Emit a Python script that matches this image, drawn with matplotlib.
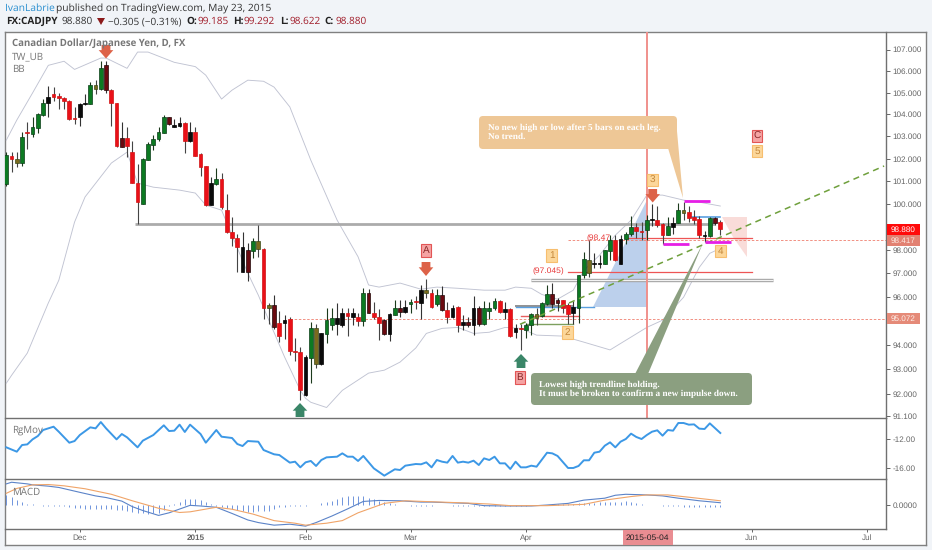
import numpy as np
import matplotlib
matplotlib.use("Agg")
import matplotlib.pyplot as plt
from matplotlib.patches import Polygon, FancyBboxPatch, Rectangle
from matplotlib.ticker import FixedLocator, FixedFormatter, NullLocator

plt.rcParams["text.hinting"] = "no_hinting"

opens = [
100.85,102.11,102.00,101.79,103.18,103.10,103.39,103.97,104.50,104.92,
104.83,104.75,104.62,103.84,103.86,104.47,104.47,105.35,105.16,106.26,
105.11,104.50,102.91,102.92,102.29,100.91,100.01,101.95,102.62,102.88,
103.16,103.86,103.44,103.47,103.62,102.80,103.20,102.20,101.65,99.95,
100.87,101.09,99.71,98.77,98.53,97.06,98.01,97.95,98.37,98.03,
95.65,95.65,94.92,94.91,95.05,93.76,93.71,91.94,93.44,94.68,
93.20,94.44,94.81,94.88,94.80,95.30,95.15,95.15,94.99,96.16,
95.34,95.14,95.02,94.43,95.24,95.55,95.35,95.69,95.82,95.76,
96.28,96.18,95.68,96.08,95.44,95.16,95.58,94.81,94.95,94.81,
95.55,94.88,95.41,95.53,95.82,95.37,95.49,94.54,94.70,94.63,
94.81,95.27,95.20,95.69,96.11,95.86,95.86,95.65,95.30,95.55,
96.92,97.58,97.39,97.39,97.38,97.95,98.41,97.41,98.46,98.70,
98.97,98.82,98.85,99.29,99.28,99.10,98.64,98.97,99.17,99.71,
99.62,99.40,99.33,98.61,98.60,99.36,99.185]
closes = [
102.16,101.99,101.79,102.96,103.14,103.41,104.00,104.53,104.81,104.81,
104.73,104.61,103.79,103.80,104.49,104.51,105.35,105.17,106.15,105.11,
104.50,102.56,102.53,102.56,100.90,100.06,101.98,102.64,102.89,103.18,
103.86,103.57,103.51,103.60,102.80,103.18,102.13,101.64,99.94,100.91,
101.09,99.84,98.77,98.53,98.12,98.12,97.06,98.37,98.02,95.51,
95.51,94.72,94.36,95.02,93.73,93.72,92.17,93.49,94.68,93.23,
94.47,95.02,95.13,95.11,95.30,95.18,95.30,94.99,96.18,95.32,
95.14,94.91,94.44,95.26,95.55,95.35,95.58,95.80,95.78,96.28,
96.16,95.58,96.07,95.44,95.16,95.55,94.81,94.95,94.81,95.55,
94.88,95.55,95.55,95.82,95.37,95.47,94.36,94.68,94.66,94.84,
95.27,95.13,95.72,96.11,95.69,95.72,95.55,95.27,95.58,96.92,
97.60,97.01,97.43,97.43,97.98,98.41,97.55,98.46,98.70,98.97,
98.80,98.78,99.31,99.33,99.07,98.66,99.05,99.17,99.71,99.60,
99.36,99.31,98.63,98.65,99.37,99.17,98.880]
highs = [
102.30,102.30,102.30,103.21,103.66,103.89,104.07,104.70,105.30,105.26,
104.96,104.79,104.66,104.32,104.53,104.93,105.49,105.57,106.45,106.47,
105.14,104.53,103.66,103.44,102.79,101.74,102.01,102.76,103.06,103.44,
103.97,103.89,103.77,103.86,103.66,103.66,103.44,102.26,101.68,101.19,
101.56,101.34,100.41,99.43,98.67,98.75,98.30,98.53,99.07,98.08,
95.74,96.07,95.39,95.23,95.15,94.29,93.89,93.58,94.95,94.88,
94.49,95.51,95.51,95.76,95.51,95.55,95.55,95.30,96.39,96.31,
95.79,95.47,95.09,95.30,95.86,95.86,95.86,95.89,96.03,96.49,
96.77,96.35,96.31,96.45,95.79,95.65,95.60,95.23,95.15,96.03,
95.60,95.82,95.79,95.93,95.86,95.79,95.55,94.88,94.88,94.91,
95.32,95.55,95.79,96.49,96.59,95.97,95.86,95.72,95.83,96.92,
97.91,98.41,97.86,97.77,98.01,98.63,98.63,98.63,98.77,99.46,
99.17,99.21,99.50,99.98,99.90,99.14,99.40,99.40,100.04,100.08,
99.90,99.72,99.46,98.82,99.43,99.43,99.292]
lows = [
100.80,101.41,101.64,101.68,102.41,102.98,103.16,103.92,103.86,104.63,
104.24,104.23,103.74,103.56,103.48,104.41,104.46,104.92,105.11,104.96,
103.47,102.53,102.53,102.05,100.90,99.11,99.98,101.93,102.38,102.77,
103.14,103.51,103.44,103.41,102.26,102.76,102.11,101.22,99.90,99.95,
100.82,99.79,98.74,98.15,97.06,97.06,96.66,97.65,97.69,95.05,
94.85,94.67,94.12,94.23,93.58,93.33,91.74,91.91,92.44,93.03,
93.19,94.06,94.60,94.40,94.74,94.37,94.81,94.77,94.78,95.30,
95.05,94.19,94.40,94.16,95.23,95.15,95.32,95.30,95.47,95.07,
95.93,95.53,95.60,95.41,94.91,95.13,94.54,94.63,94.72,94.40,
94.77,94.81,95.05,95.44,95.30,95.05,94.33,94.30,93.78,94.30,
94.40,94.81,95.15,95.65,95.51,95.41,95.30,94.88,94.85,94.91,
96.78,96.84,97.20,97.20,97.38,97.55,97.52,97.41,98.27,98.59,
98.49,98.41,98.41,99.02,98.97,98.24,98.62,98.70,99.14,99.28,
99.21,99.11,98.49,98.34,98.56,99.07,98.622]
candle_colours = (
"grogrgggkr"
"rrrrkkgogd"
"rrdrrrgggg"
"gdkkrkrrrk"
"grrrrkdgor"
"odrkrrrkgo"
"kggkkrkrgd"
"rrdkgdkgrk"
"orgdrkrkdk"
"dgggrkrkrg"
"goggddrrkg"
"gokkggrkgg"
"rrgkrrgkgo"
"rrrkgdr")

upper_idx = [0,2,5,8,11,13,18,19,23,25,27,32,36,38,41,43,46,49,51,54,58,63,67,69,71,75,79,82,86,91,95,97,100,102,105,108,110,113,116,119,122,125,129,132,136]
upper_val = [102.83,103.74,104.98,106.26,106.45,106.07,106.6,106.6,106.12,106.88,106.88,106.4,106.2,105.8,104.7,105.11,105.57,105.52,105.25,104.34,101.93,99.29,97.7,96.5,96.41,96.58,96.32,96.41,96.36,96.28,96.28,96.41,96.36,96.1,95.9,96.28,97.12,97.77,98.63,99.28,100.38,100.38,100.16,100.07,99.9]
lower_idx = [0,1,4,8,10,13,15,20,23,25,28,33,36,38,41,46,48,50,53,56,57,58,61,64,69,72,75,78,80,83,86,89,92,95,98,101,106,110,115,122,125,129,132,134,136]
lower_val = [92.43,92.75,93.66,95.74,96.7,99.2,100.3,101.8,102.29,100.91,100.73,100.6,100.47,99.94,99.72,97.0,96.07,95.02,93.5,92.14,91.82,91.66,91.45,92.14,92.84,92.96,93.29,93.87,94.47,94.68,94.72,94.47,94.52,94.72,94.68,94.4,94.36,94.11,93.79,94.72,95.02,95.98,97.25,97.85,98.06]

rg_idx = [0,2,3,4,5,6,7,9,10,12,13,14,16,17,18,19,21,22,23,25,26,28,30,31,32,33,34,35,37,38,40,41,43,44,45,46,48,49,51,52,54,55,56,57,58,59,60,61,63,64,65,66,67,68,70,72,74,75,76,78,79,80,81,82,83,84,85,86,87,88,89,90,91,92,93,94,95,96,97,98,99,100,101,103,104,105,107,108,109,110,111,112,113,114,115,116,117,118,119,120,121,122,123,124,125,126,127,128,129,130,131,132,133,134,136]
rg_val = [-13.15,-13.75,-12.83,-12.74,-12.05,-11.59,-10.76,-10.30,-11.0,-12.51,-12.28,-11.45,-10.39,-10.53,-9.66,-10.53,-12.05,-11.31,-11.77,-13.15,-12.23,-11.45,-10.11,-10.90,-10.85,-10.02,-11.03,-10.02,-11.31,-12.51,-10.76,-11.68,-11.86,-12.69,-12.97,-12.28,-12.37,-13.52,-14.11,-14.21,-15.26,-15.13,-15.91,-15.22,-15.03,-15.72,-14.90,-14.53,-14.44,-13.98,-14.44,-14.44,-15.03,-14.34,-16.05,-17.06,-16.18,-16.28,-15.68,-15.45,-15.49,-15.22,-15.91,-14.90,-15.13,-15.26,-14.34,-15.26,-15.13,-15.26,-14.99,-15.59,-14.67,-14.90,-14.44,-15.36,-15.36,-16.14,-15.13,-15.91,-15.91,-15.68,-15.82,-13.89,-13.98,-14.34,-16.00,-16.00,-15.72,-14.94,-14.94,-13.89,-13.75,-12.92,-12.46,-13.15,-12.37,-12.00,-11.26,-11.72,-12.00,-11.45,-10.99,-10.80,-11.54,-10.76,-10.85,-9.79,-9.79,-10.02,-9.98,-10.57,-10.62,-9.84,-11.17]

macd_idx = [0,1,4,5,8,10,14,17,19,22,24,26,29,31,35,37,40,43,46,48,51,54,57,59,62,65,68,71,75,79,81,88,91,95,100,103,107,110,114,116,118,122,125,128,132,136]
macd_val = [0.65,0.70,0.65,0.62,0.58,0.54,0.39,0.28,0.23,0.12,-0.05,-0.17,-0.32,-0.24,-0.01,-0.03,-0.07,-0.26,-0.46,-0.54,-0.62,-0.59,-0.65,-0.54,-0.34,-0.12,0.11,0.14,0.13,0.09,0.09,0.05,-0.02,-0.03,-0.03,0.00,0.05,0.15,0.21,0.30,0.33,0.31,0.28,0.21,0.13,0.07]
signal_idx = [0,2,5,8,11,15,20,24,29,33,35,40,43,47,51,55,57,61,64,67,72,76,81,88,92,96,103,110,114,119,122,126,130,136]
signal_val = [0.36,0.51,0.62,0.63,0.59,0.50,0.33,0.13,-0.10,-0.23,-0.21,-0.07,-0.13,-0.28,-0.48,-0.56,-0.62,-0.56,-0.48,-0.24,0.05,0.13,0.10,0.06,0.03,-0.02,-0.02,0.02,0.15,0.26,0.31,0.31,0.24,0.13]
hist_centi = [30,25,15,8,3,2,0,-2,-3,-3,-4,-4,-5,-8,-10,-12,-12,-12,-13,-13,
-13,-14,-15,-18,-20,-24,-26,-28,-26,-24,-15,-3,2,8,17,18,17,15,8,2,
-3,-6,-8,-12,-15,-18,-20,-20,-18,-18,-18,-13,-7,-5,-3,-3,-2,-2,0,1,
5,8,12,18,24,28,28,28,27,22,18,12,8,5,3,1,-1,-3,-3,-3,
-3,-3,-1,0,0,-2,-3,-3,-3,-4,-3,-3,-3,-3,-3,-3,-3,-2,-2,-2,
-1,0,0,1,2,3,3,3,4,5,5,7,7,8,8,9,10,10,12,10,
6,3,1,0,-1,-2,-2,-3,-4,-5,-5,-6,-6,-7,-7,-7,-7]

price_ticks = [107,106,105,104,103,102,101,100,99,98,97,96,95,94,93,92,91.1]
price_labels = ["107.000","106.000","105.000","104.000","103.000","102.000","101.000","100.000","","98.000","97.000","96.000","","94.000","93.000","92.000","91.100"]
time_idx = [14,36,57,77,99,142,164]
time_labels = ["Dec","2015","Feb","Mar","Apr","Jun","Jul"]

W, H = 932, 550
BG = "#f1f4f8"
GREY = "#777777"
fam = ["Liberation Sans", "DejaVu Sans"]
sansUI = ["Open Sans"]
fig = plt.figure(figsize=(W/100, H/100), dpi=100, facecolor=BG)

def axpx(x0, y0, x1, y1, **k):
    return fig.add_axes([x0/W, 1-y1/H, (x1-x0)/W, (y1-y0)/H], **k)

# whole frame
frame = axpx(5, 32, 926, 545, zorder=0)
frame.set_xticks([]); frame.set_yticks([])
frame.set_facecolor("white")
for s in frame.spines.values():
    s.set_color("#808080"); s.set_linewidth(1.0)

XL = (-0.25, 167.56)
ax = axpx(5, 32, 886, 418, zorder=2)
rg = axpx(5, 418, 886, 479, zorder=2)
mc = axpx(5, 479, 886, 529, zorder=2)
for a in (ax, rg, mc):
    a.set_facecolor("none")
    a.set_xlim(*XL)
    a.yaxis.tick_right()
    a.tick_params(axis="y", length=3, width=0.7, color="#666666", labelcolor="#666666", labelsize=5.9, pad=1.5)
    a.tick_params(axis="x", length=2, width=0.7, color="#666666", labelcolor="#666666", labelsize=5.9, pad=2)
    for s in a.spines.values():
        s.set_color("#707070"); s.set_linewidth(1.0)
    a.spines["left"].set_visible(False); a.spines["top"].set_visible(False)
    a.set_xticks([])

# pixel overlay
ov = fig.add_axes([0, 0, 1, 1], zorder=5)
ov.set_xlim(0, W); ov.set_ylim(H, 0); ov.axis("off"); ov.patch.set_alpha(0)

# main pane
ax.set_yscale("log")
ax.set_ylim(91.03, 107.825)
ax.yaxis.set_major_locator(FixedLocator(price_ticks))
ax.yaxis.set_major_formatter(FixedFormatter(price_labels))
ax.yaxis.set_minor_locator(NullLocator())
for lab in ax.get_yticklabels():
    lab.set_family(fam)

X = np.arange(len(opens))
# shaded zones under the candles
ax.add_patch(Polygon([(647, 200), (593, 307), (647, 307)], closed=True, transform=ov.transData,
                     fc="#bcd0ec", ec="none", zorder=1))
ax.add_patch(Polygon([(722, 217), (747, 217), (747, 257), (733, 237)], closed=True, transform=ov.transData,
                     fc="#f9dcd9", ec="none", zorder=1))

# bands
ax.plot(upper_idx, upper_val, color="#c0c3d2", lw=0.65, zorder=2)
ax.plot(lower_idx, lower_val, color="#c0c3d2", lw=0.65, zorder=2)

# level lines
ax.plot([24.5, 135], [99.11, 99.11], color="#ababab", lw=2.0, zorder=2, solid_capstyle="butt")
ax.plot([100, 146], [96.7, 96.7], color="#9a9a9a", lw=2.4, zorder=2, solid_capstyle="butt")
ax.plot([100, 146], [96.7, 96.7], color="#f2f2f2", lw=1.0, zorder=2, solid_capstyle="butt")
ax.plot([106.9, 142], [97.05, 97.05], color="#ee5555", lw=0.9, zorder=2)
ax.plot([118, 142], [98.51, 98.51], color="#ee5555", lw=0.9, zorder=2)
ax.plot([106.9, 167.56], [98.417, 98.417], color="#ef7f6f", lw=0.6, ls=(0, (3, 2)), zorder=2)
ax.plot([54, 167.56], [95.072, 95.072], color="#ef7f6f", lw=0.6, ls=(0, (3, 2)), zorder=2)
ax.plot([97, 108], [95.6, 95.6], color="#909090", lw=1.4, zorder=2)
ax.plot([97, 112], [95.58, 95.58], color="#5a9fe0", lw=1.0, zorder=2)
ax.plot([98, 109], [95.19, 95.19], color="#e86060", lw=1.0, zorder=2)
ax.plot([99, 108], [94.85, 94.85], color="#7da05f", lw=1.0, zorder=2)
ax.plot([130.5, 136], [99.41, 99.41], color="#5a9fe0", lw=1.2, zorder=2)

# vertical marker
ax.axvline(122, color="#f0908c", lw=1.4, zorder=2.5)

# candles
palette = {"g": ("#0c7a22", "#0c3d18"), "r": ("#ea1018", "#d01414"), "k": ("#0a0a0a", "#000000"),
           "d": ("#6a0a10", "#200808"), "o": ("#7a6a1e", "#3a4a18")}
wick = {"g": "#1c3a1c", "r": "#444444", "k": "#333333", "d": "#333333", "o": "#444444"}
for i, (o, h, l, c, col) in enumerate(zip(opens, highs, lows, closes, candle_colours)):
    ax.vlines(i, l, h, color=wick[col], lw=0.8, zorder=3)
    lo, hi = min(o, c), max(o, c)
    ax.bar(i, hi-lo, bottom=lo, width=0.70, color=palette[col][0], edgecolor=palette[col][1], lw=0.5, zorder=4)

# trend line
ax.plot([97.85, 167.2], [94.85, 101.67], color="#6fa03c", lw=1.1, ls=(0, (4, 3)), zorder=6)

# short magenta levels
for a0, a1, lv in [(129, 134, 100.1), (125, 130, 98.27), (133, 138, 98.34)]:
    ax.plot([a0, a1], [lv, lv], color="#e61ee6", lw=2.0, zorder=6, solid_capstyle="butt")

# callouts
def box(x0, y0, x1, y1, fc, r=4):
    ov.add_patch(FancyBboxPatch((x0+r, y0+r), x1-x0-2*r, y1-y0-2*r, boxstyle=f"round,pad={r},rounding_size={r}",
                                fc=fc, ec="none", zorder=3))

OR = "#eec796"; GN = "#8b9f80"
ov.add_patch(Polygon([(668, 148), (676, 120), (683, 198)], closed=True, fc=OR, ec="none", zorder=3))
box(479, 116, 677, 149, OR)
ov.add_patch(Polygon([(635, 374), (648, 374), (703, 243)], closed=True, fc=GN, ec="none", zorder=3))
box(531, 373, 752, 405, GN)
serif = dict(family=["Liberation Serif"], weight="bold", color="white", fontsize=6.65, va="center", zorder=4)
ov.text(488, 128, "No new high or low after 5 bars on each leg.", **serif)
ov.text(488, 137, "No trend.", **serif)
ov.text(539, 384.5, "Lowest high trendline holding.", **serif)
ov.text(539, 393.5, "It must be broken to confirm a new impulse down.", **serif)

# arrows
def arrow(xc, y0, y1, up, fc):
    w = 7.3; s = 4.4
    if up:
        m = y0+(y1-y0)*0.55
        pts = [(xc, y0), (xc+w, m), (xc+s, m), (xc+s, y1), (xc-s, y1), (xc-s, m), (xc-w, m)]
    else:
        m = y0+(y1-y0)*0.38
        pts = [(xc, y1), (xc+w, m), (xc+s, m), (xc+s, y0), (xc-s, y0), (xc-s, m), (xc-w, m)]
    ov.add_patch(Polygon(pts, closed=True, fc=fc, ec="none", zorder=3))

arrow(106, 45, 58.5, False, "#dd6248")
arrow(426, 262, 276, False, "#dd6248")
arrow(652.7, 189, 202.5, False, "#dd6248")
arrow(300, 403, 417, True, "#3a8668")
arrow(521, 354, 368, True, "#3a8668")

# badges
def badge(xc, yc, t, fc, ec, tc):
    ov.add_patch(Rectangle((xc-5.3, yc-6.3), 10.6, 12.6, fc=fc, ec=ec, lw=0.8, zorder=3))
    ov.text(xc, yc+0.2, t, ha="center", va="center", fontsize=7.2, color=tc, family=fam, zorder=4)

for xc, yc, t in [(426, 250.7, "A"), (520, 377.7, "B"), (757, 136, "C")]:
    badge(xc, yc, t, "#f5a3a3", "#e25555", "#8a2a2a")
for xc, yc, t in [(551.7, 255.7, "1"), (567.7, 332.7, "2"), (652.7, 180, "3"), (720.7, 251, "4"), (757, 151, "5")]:
    badge(xc, yc, t, "#fcd79a", "#f7be6e", "#c4873a")

red = dict(color="#e8393a", fontsize=6.1, va="center", family=fam, zorder=4)
ov.text(532, 271.5, "(97.045)", **red)
ov.text(586, 238, "(98.47", **red)

# pane captions
cap = dict(color=GREY, family=sansUI, va="center", zorder=4)
ov.text(12, 44, "Canadian Dollar/Japanese Yen, D, FX", fontsize=6.9, weight="bold", **cap)
ov.text(12, 56.5, "TW_UB", fontsize=7.0, **cap)
ov.text(12, 69, "BB", fontsize=7.0, **cap)
ov.text(12, 430.5, "RgMov", fontsize=7.0, **cap)
ov.text(12, 492, "MACD", fontsize=7.0, **cap)

# price flags
for y0, y1, fc, t, tc in [(224, 235, "#ff0a0a", "98.880", "white"), (235, 245.7, "#e28172", "98.417", "#fde8e0"), (313, 324, "#e58a78", "95.072", "#fdf0ea")]:
    ov.add_patch(Rectangle((886.5, y0), 33.5, y1-y0, fc=fc, ec="none", zorder=3))
    ov.text(903.5, (y0+y1)/2+0.2, t, ha="center", va="center", fontsize=5.9, color=tc, family=fam, zorder=4)

# RgMov
rg.set_ylim(-17.52, -9.1)
rg.plot(rg_idx, rg_val, color="#3c98e6", lw=1.4)
rg.set_yticks([-12, -16]); rg.set_yticklabels(["-12.00", "-16.00"], family=fam)

# MACD
mc.set_ylim(-0.738, 0.80)
mc.vlines(X, 0, np.array(hist_centi)/100, color="#6f94dc", lw=0.7)
mc.plot(macd_idx, macd_val, color="#5b83c8", lw=0.8)
mc.plot(signal_idx, signal_val, color="#f0a468", lw=0.8)
mc.set_yticks([0]); mc.set_yticklabels(["0.0000"], family=fam)
mc.set_xticks(time_idx + [122])
mc.set_xticklabels(time_labels + [""], family=fam)
for lab in mc.get_xticklabels():
    if lab.get_text() == "2015":
        lab.set_fontweight("bold")

ov.add_patch(Rectangle((622.7, 529.5), 50, 15.5, fc="#e98d92", ec="none", zorder=3))
ov.text(647.7, 538, "2015-05-04", ha="center", va="center", fontsize=6.1, color="#222222", family=fam, zorder=4)

# header
hdr = dict(family=sansUI, va="center", zorder=4)
ov.text(5, 8.5, "IvanLabrie", color="#2a8fd0", fontsize=7.4, **hdr)
ov.text(56.5, 8.5, "published on TradingView.com, May 23, 2015", color="#333333", fontsize=7.4, **hdr)
y = 21.5
for xp, t, c, w in [(6, "FX:CADJPY", "#222222", "bold"), (61, "98.880", "#333333", "normal"),
                    (108, "\u22120.305 (\u22120.31%)", "#333333", "normal"), (186, "O:", "#222222", "bold"),
                    (198, "99.185", "#a11d2a", "normal"), (233, "H:", "#222222", "bold"),
                    (244, "99.292", "#a11d2a", "normal"), (280, "L:", "#222222", "bold"),
                    (289, "98.622", "#a11d2a", "normal"), (324, "C:", "#222222", "bold"),
                    (335, "98.880", "#a11d2a", "normal")]:
    ov.text(xp, y, t, color=c, fontsize=7.2, weight=w, **hdr)
ov.add_patch(Polygon([(97, 18), (105, 18), (101, 25)], closed=True, fc="#8b1a1a", ec="none", zorder=4))

fig.savefig("out.png", dpi=100, facecolor=BG)
